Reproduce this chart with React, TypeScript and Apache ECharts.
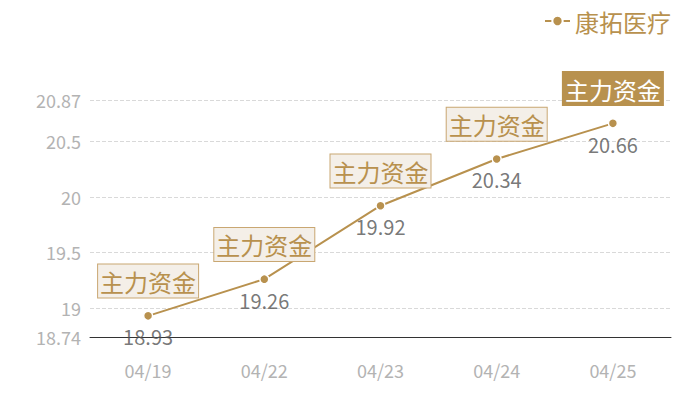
import React, { useEffect, useRef } from "react";
import * as echarts from "echarts";

const categories = ["04/19", "04/22", "04/23", "04/24", "04/25"];
const prices = [18.93, 19.26, 19.92, 20.34, 20.66];
const yTicks = [18.74, 19, 19.5, 20, 20.5, 20.87];
const tagText = "主力资金";
const seriesName = "康拓医疗";
const yMin = 18.74;
const yMax = 20.87;

const GOLD = "#b8914e";
const FONT = "'Noto Sans CJK SC', 'Noto Sans', sans-serif";

export default function App() {
  const ref = useRef<HTMLDivElement>(null);
  useEffect(() => {
    document.body.style.margin = "0";
    if (!ref.current) return;
    const chart = echarts.init(ref.current, undefined, { renderer: "svg" });
    const boxLabel = {
      show: true,
      position: "top",
      distance: 13,
      formatter: tagText,
      fontSize: 24,
      lineHeight: 28,
      color: GOLD,
      backgroundColor: "#f4efe8",
      borderColor: "#c9a772",
      borderWidth: 1,
      padding: [3, 2, 2, 2],
      fontFamily: FONT,
    };
    const lastBox = {
      ...boxLabel,
      color: "#ffffff",
      backgroundColor: GOLD,
      borderColor: GOLD,
    };
    chart.setOption({
      animation: false,
      textStyle: { fontFamily: FONT },
      legend: {
        data: [seriesName],
        right: 24,
        top: 4,
        itemWidth: 25,
        itemHeight: 13,
        itemGap: 8,
        textStyle: { color: GOLD, fontSize: 24, fontFamily: FONT },
      },
      grid: { left: 90, right: 29, top: 100, bottom: 63 },
      xAxis: {
        type: "category",
        data: categories,
        axisLine: { lineStyle: { color: "#333", width: 1 } },
        axisTick: { show: false },
        axisLabel: { color: "#b3b3b3", fontSize: 18, margin: 24, fontFamily: FONT },
      },
      yAxis: {
        type: "value",
        min: yMin,
        max: yMax,
        axisLine: { show: false },
        axisTick: { show: false, customValues: yTicks },
        axisLabel: {
          color: "#b3b3b3",
          fontSize: 18,
          margin: 9,
          fontFamily: FONT,
          customValues: yTicks,
        },
        splitLine: { lineStyle: { color: "#d9d9d9", type: "dashed" } },
      },
      series: [
        {
          name: seriesName,
          type: "line",
          data: prices.map((v, i) =>
            i === prices.length - 1 ? { value: v, label: lastBox } : { value: v }
          ),
          symbol: "circle",
          symbolSize: 9,
          color: GOLD,
          lineStyle: { color: GOLD, width: 2 },
          itemStyle: { color: GOLD, borderColor: "#fff", borderWidth: 1.5 },
          label: boxLabel,
          z: 3,
        },
        {
          name: "value",
          type: "scatter",
          data: prices,
          symbolSize: 8,
          itemStyle: { color: "transparent" },
          label: {
            show: true,
            position: "bottom",
            distance: 7,
            color: "#555",
            fontSize: 20,
            fontFamily: FONT,
          },
          silent: true,
          z: 2,
        },
      ],
    });
    return () => chart.dispose();
  }, []);
  return <div ref={ref} style={{ width: 700, height: 400 }} />;
}
